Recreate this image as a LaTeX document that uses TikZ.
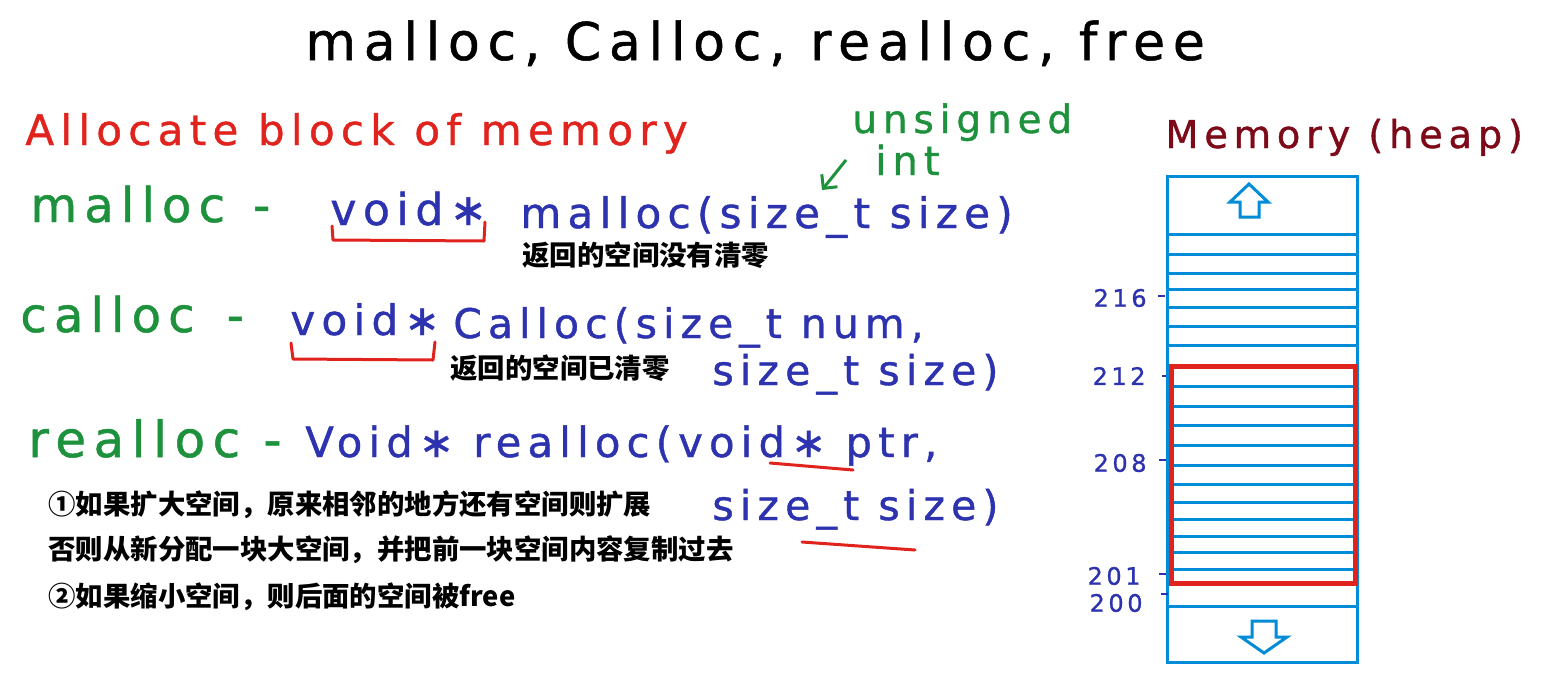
\documentclass[tikz,border=0pt]{standalone}
\usepackage{fontspec}
\usetikzlibrary{arrows.meta}
\newfontfamily\handfont[LetterSpace=15,FakeBold=1]{DejaVu Sans}
\newfontfamily\cjk{Noto Sans CJK SC}
\definecolor{handgreen}{RGB}{30,145,60}
\definecolor{fnblue}{RGB}{45,50,175}
\definecolor{markred}{RGB}{225,35,30}
\definecolor{heapred}{RGB}{125,10,25}
\definecolor{memblue}{RGB}{0,140,215}

\begin{document}
\begin{tikzpicture}[
    x=0.5pt, y=-0.5pt,
    hand/.style={font=\handfont\fontsize{#1}{#1}\selectfont, anchor=base west, inner sep=0pt},
    note/.style={font=\cjk\bfseries\fontsize{13.7}{16}\selectfont, anchor=west, inner sep=0pt},
    addr/.style={hand=12, text=fnblue, anchor=east},
    redmark/.style={draw=markred, line width=1.5pt, line cap=round, line join=round},
    memline/.style={draw=memblue, line width=1.5pt},
    heapbox/.style={draw=markred, line width=2.5pt}
]
\useasboundingbox (0,0) rectangle (1545,685);

% title
\node[hand=26] (title) at (305,60) {malloc, Calloc, realloc, free};

% headings
\node[hand=21, text=markred] (alloc) at (25,145) {Allocate block of memory};
\node[hand=19.5, text=handgreen] (unsig) at (852,133) {unsigned};
\node[hand=20, text=handgreen] (int) at (875,175) {int};
\node[hand=19.2, text=heapred] (heap) at (1165,148) {Memory (heap)};
\coordinate (argfrom) at (846,160);
\coordinate (argto) at (822,190);
\draw[handgreen, line width=1.5pt, -{Straight Barb[length=5pt]}] (argfrom) -- (argto);

% malloc
\node[hand=24, text=handgreen] (mname) at (30,222) {malloc\hspace{14pt}-};
\node[hand=22, text=fnblue] (mvoid) at (330,225) {void∗};
\node[hand=21, text=fnblue] (mproto) at (520,228) {malloc(size\_t size)};
\node[note] (mnote) at (522,255) {返回的空间没有清零};
\draw[redmark] (332,226) -- (333,240) -- (484,241) -- (485,222);

% calloc
\node[hand=24, text=handgreen] (cname) at (20,332) {calloc\hspace{16pt}-};
\node[hand=21, text=fnblue] (cvoid) at (290,335) {void∗};
\node[hand=20.4, text=fnblue] (cproto) at (453,338) {Calloc(size\_t num,};
\node[hand=20.5, text=fnblue] (csize) at (712,385) {size\_t size)};
\node[note] (cnote) at (450,368) {返回的空间已清零};
\draw[redmark] (291,343) -- (293,359) -- (433,360) -- (435,342);

% realloc
\node[hand=25, text=handgreen] (rname) at (28,457) {realloc -};
\node[hand=20.8, text=fnblue] (rproto) at (305,457) {Void∗ realloc(void∗ ptr,};
\node[hand=20.5, text=fnblue] (rsize) at (712,520) {size\_t size)};
\draw[redmark] (770,463) -- (853,470);
\draw[redmark] (802,542) -- (915,550);
\node[note] (grow) at (48,505) {①如果扩大空间，原来相邻的地方还有空间则扩展};
\node[note] (move) at (48,550) {否则从新分配一块大空间，并把前一块空间内容复制过去};
\node[note] (shrink) at (48,597) {②如果缩小空间，则后面的空间被free};

% memory
\draw[memline] (1167,176) rectangle (1357,662);
\foreach \y in {234,254,273,289,307,326,345,366,386,406,425,445,465,484,502,519,536,552,569,583,606}
  \draw[memline] (1167,\y) -- (1357,\y);
\draw[heapbox] (1171,366) rectangle (1355,583);
\draw[memline, line join=miter] (1240,217) -- (1240,202) -- (1230,202) -- (1249,184)
  -- (1268,202) -- (1259,202) -- (1259,217) -- cycle;
\draw[memline, line join=miter] (1252,621) -- (1276,621) -- (1276,637) -- (1287,637)
  -- (1264,653) -- (1241,637) -- (1252,637) -- cycle;

% addresses
\node[addr] (a216) at (1147,298) {216};
\node[addr] (a212) at (1146,376) {212};
\node[addr] (a208) at (1147,463) {208};
\node[addr] (a201) at (1141,576) {201};
\node[addr] (a200) at (1143,603) {200};
\draw[fnblue, line width=1.2pt] (1158,296) -- (1165,296);
\draw[fnblue, line width=1.2pt] (1162,376) -- (1166,376);
\draw[fnblue, line width=1.2pt] (1159,460) -- (1166,460);
\draw[fnblue, line width=1.2pt] (1159,574) -- (1166,574);
\draw[fnblue, line width=1.2pt] (1161,594) -- (1168,594);

\end{tikzpicture}
\end{document}
